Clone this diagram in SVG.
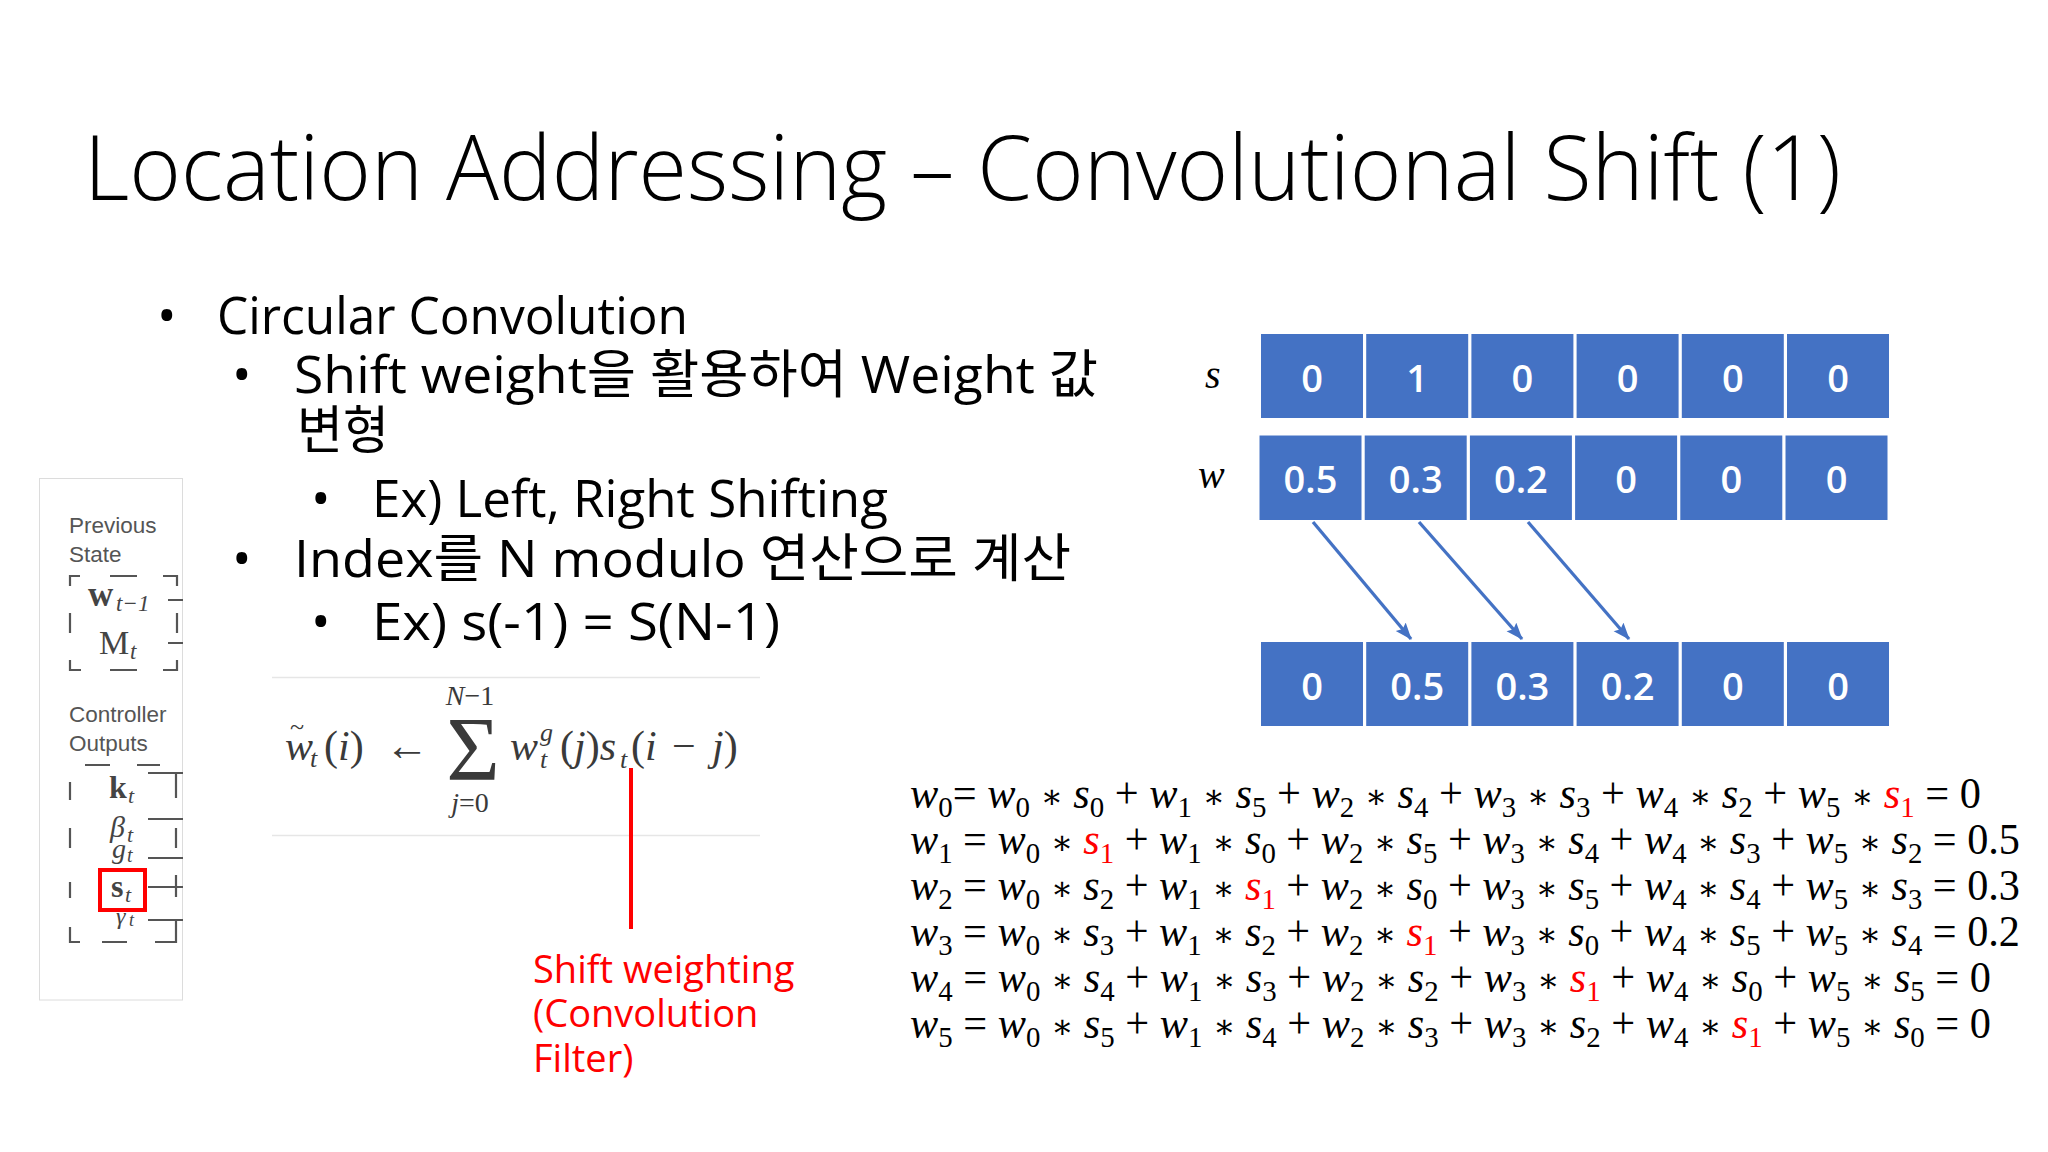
<svg xmlns="http://www.w3.org/2000/svg" width="2048" height="1152" viewBox="0 0 2048 1152">
<defs>
<style>
.ttl{font-family:"Open Sans","Noto Sans CJK KR",sans-serif;font-size:90px;font-weight:300;fill:#000}
.bl{font-family:"Open Sans","Noto Sans CJK KR",sans-serif;font-size:52px;font-weight:400;fill:#000}
.cell rect{fill:#4472c4;stroke:#fff;stroke-width:2}
.cell text{font-family:"Open Sans",sans-serif;font-size:38px;font-weight:600;fill:#fff;text-anchor:middle}
.lab{font-family:"Liberation Serif",serif;font-size:40px;font-style:italic;fill:#000}
.eq{font-family:"Liberation Serif","DejaVu Serif",serif;font-size:44px;fill:#000}
.v{font-style:italic}
.b{font-size:30px}
.o{font-size:34px}
.r{fill:#ff0000}
.fig{font-family:"Liberation Sans",sans-serif;font-size:22.5px;fill:#555}
.mth{font-family:"Liberation Serif",serif;fill:#444}
.dash{fill:none;stroke:#555;stroke-width:2.2}
.fm{font-family:"Liberation Serif",serif;fill:#3a3a3a}
.ann{font-family:"Open Sans",sans-serif;font-size:38px;fill:#ff0000}
.arr{stroke:#4472c4;stroke-width:3.3;fill:none;marker-end:url(#ah)}
</style>
<marker id="ah" markerUnits="userSpaceOnUse" markerWidth="18" markerHeight="14" refX="16" refY="6.5" orient="auto">
<path d="M0,0 L17,6.5 L0,13 L3,6.5 z" fill="#4472c4"/>
</marker>
</defs>
<rect width="2048" height="1152" fill="#fff"/>

<g id="title">
<text class="ttl" x="84" y="200" textLength="1757" lengthAdjust="spacingAndGlyphs">Location Addressing – Convolutional Shift (1)</text>
</g>

<g id="bullets">
<text class="bl" x="157" y="334">•</text>
<text class="bl" x="217" y="334" textLength="471" lengthAdjust="spacingAndGlyphs">Circular Convolution</text>
<text class="bl" x="232" y="393">•</text>
<text class="bl" x="294" y="393" textLength="804" lengthAdjust="spacingAndGlyphs">Shift weight을 활용하여 Weight 값</text>
<text class="bl" x="297" y="449" textLength="92" lengthAdjust="spacingAndGlyphs">변형</text>
<text class="bl" x="311" y="517">•</text>
<text class="bl" x="372" y="517" textLength="516" lengthAdjust="spacingAndGlyphs">Ex) Left, Right Shifting</text>
<text class="bl" x="232" y="577">•</text>
<text class="bl" x="294" y="577" textLength="777" lengthAdjust="spacingAndGlyphs">Index를 N modulo 연산으로 계산</text>
<text class="bl" x="311" y="640">•</text>
<text class="bl" x="372" y="640" textLength="408" lengthAdjust="spacingAndGlyphs">Ex) s(-1) = S(N-1)</text>
</g>

<g id="ntm-figure">
<rect x="39.5" y="478.5" width="143" height="521.5" fill="#fff" stroke="#dcdcdc" stroke-width="1"/>
<text class="fig" x="69" y="533">Previous</text>
<text class="fig" x="69" y="562">State</text>
<path class="dash" d="M70,586V576H80 M110,576H137 M163,576H177V586 M70,613V633 M177,613V633 M70,660V670H81 M110,670H137 M163,670H177V660 M168,600H183 M168,643H183"/>
<text class="mth" x="88" y="606" font-size="35" font-weight="bold">w</text>
<text class="mth" x="116" y="611" font-size="23" font-style="italic" fill="#777">t−1</text>
<text class="mth" x="99" y="654" font-size="34">M</text>
<text class="mth" x="130" y="659" font-size="23" font-style="italic">t</text>
<text class="fig" x="69" y="722">Controller</text>
<text class="fig" x="69" y="751">Outputs</text>
<path class="dash" d="M85,765H110 M137,765H160 M148,773H183 M176,773V798 M70,782V800 M70,828V848 M70,882V898 M148,819H183 M176,828V848 M148,858H183 M148,887H183 M176,875V897 M148,920H183 M176,920V942H155 M70,927V942H80 M102,942H127"/>
<text class="mth" x="109" y="798" font-size="32" font-weight="bold">k</text>
<text class="mth" x="128" y="803" font-size="22" font-style="italic">t</text>
<text class="mth" x="110" y="837" font-size="30" font-style="italic" fill="#aaa">β</text>
<text class="mth" x="127" y="842" font-size="22" font-style="italic" fill="#aaa">t</text>
<text class="mth" x="112" y="858" font-size="28" font-style="italic" fill="#8a9ab5">g</text>
<text class="mth" x="127" y="862" font-size="20" font-style="italic" fill="#8a9ab5">t</text>
<text class="mth" x="111" y="897" font-size="32" font-weight="bold">s</text>
<text class="mth" x="125" y="902" font-size="22" font-style="italic">t</text>
<text class="mth" x="116" y="924" font-size="24" font-style="italic" fill="#ccc">γ</text>
<text class="mth" x="129" y="926" font-size="18" font-style="italic" fill="#ccc">t</text>
<rect x="100" y="870" width="45" height="40" fill="none" stroke="#ff0000" stroke-width="4"/>
</g>

<g id="formula">
<line x1="272" y1="677.5" x2="760" y2="677.5" stroke="#e6e6e6" stroke-width="1.5"/>
<line x1="272" y1="835.5" x2="760" y2="835.5" stroke="#e6e6e6" stroke-width="1.5"/>
<text class="fm" x="285" y="760" font-size="42" font-style="italic">w</text>
<text class="fm" x="290" y="735" font-size="26">~</text>
<text class="fm" x="310" y="767" font-size="26" font-style="italic">t</text>
<text class="fm" x="324" y="760" font-size="42">(<tspan font-style="italic">i</tspan>)</text>
<text class="fm" x="385" y="760" font-size="44" font-family="DejaVu Serif">←</text>
<text class="fm" x="473" y="780" font-size="92" text-anchor="middle">Σ</text>
<text class="fm" x="470" y="705" font-size="28" text-anchor="middle"><tspan font-style="italic">N</tspan>−1</text>
<text class="fm" x="470" y="812" font-size="28" text-anchor="middle"><tspan font-style="italic">j</tspan>=0</text>
<text class="fm" x="510" y="760" font-size="42" font-style="italic">w</text>
<text class="fm" x="540" y="741" font-size="26" font-style="italic">g</text>
<text class="fm" x="540" y="768" font-size="26" font-style="italic">t</text>
<text class="fm" x="560" y="760" font-size="42">(<tspan font-style="italic">j</tspan>)<tspan font-style="italic">s</tspan></text>
<text class="fm" x="620" y="768" font-size="26" font-style="italic">t</text>
<text class="fm" x="631" y="760" font-size="42">(<tspan font-style="italic">i</tspan></text>
<text class="fm" x="672" y="760" font-size="42">−</text>
<text class="fm" x="712" y="760" font-size="42"><tspan font-style="italic">j</tspan>)</text>
</g>

<g id="annotation">
<text class="ann" x="533" y="983">Shift weighting</text>
<text class="ann" x="533" y="1027">(Convolution</text>
<text class="ann" x="533" y="1072">Filter)</text>
</g>

<g id="row-s">
<text class="lab" x="1205" y="388">s</text>
<g class="cell"><rect x="1260" y="333" width="104" height="86"/><text x="1312" y="392">0</text></g>
<g class="cell"><rect x="1365.2" y="333" width="104" height="86"/><text x="1417.2" y="392">1</text></g>
<g class="cell"><rect x="1470.4" y="333" width="104" height="86"/><text x="1522.4" y="392">0</text></g>
<g class="cell"><rect x="1575.6" y="333" width="104" height="86"/><text x="1627.6" y="392">0</text></g>
<g class="cell"><rect x="1680.8" y="333" width="104" height="86"/><text x="1732.8" y="392">0</text></g>
<g class="cell"><rect x="1786" y="333" width="104" height="86"/><text x="1838" y="392">0</text></g>
</g>

<g id="row-w">
<text class="lab" x="1198" y="488">w</text>
<g class="cell"><rect x="1258.5" y="434.5" width="104" height="86.5"/><text x="1310.5" y="493">0.5</text></g>
<g class="cell"><rect x="1363.7" y="434.5" width="104" height="86.5"/><text x="1415.7" y="493">0.3</text></g>
<g class="cell"><rect x="1468.9" y="434.5" width="104" height="86.5"/><text x="1520.9" y="493">0.2</text></g>
<g class="cell"><rect x="1574.1" y="434.5" width="104" height="86.5"/><text x="1626.1" y="493">0</text></g>
<g class="cell"><rect x="1679.3" y="434.5" width="104" height="86.5"/><text x="1731.3" y="493">0</text></g>
<g class="cell"><rect x="1784.5" y="434.5" width="104" height="86.5"/><text x="1836.5" y="493">0</text></g>
</g>

<g id="row-result">
<g class="cell"><rect x="1260" y="641" width="104" height="86"/><text x="1312" y="700">0</text></g>
<g class="cell"><rect x="1365.2" y="641" width="104" height="86"/><text x="1417.2" y="700">0.5</text></g>
<g class="cell"><rect x="1470.4" y="641" width="104" height="86"/><text x="1522.4" y="700">0.3</text></g>
<g class="cell"><rect x="1575.6" y="641" width="104" height="86"/><text x="1627.6" y="700">0.2</text></g>
<g class="cell"><rect x="1680.8" y="641" width="104" height="86"/><text x="1732.8" y="700">0</text></g>
<g class="cell"><rect x="1786" y="641" width="104" height="86"/><text x="1838" y="700">0</text></g>
</g>

<g id="connectors">
<line class="arr" x1="1313" y1="522" x2="1411" y2="639"/>
<line class="arr" x1="1419" y1="522" x2="1522" y2="639"/>
<line class="arr" x1="1528" y1="522" x2="1629" y2="639"/>
<line x1="631" y1="768" x2="631" y2="929" stroke="#ff0000" stroke-width="4"/>
</g>

<g id="equations" class="eq">
<text x="910" y="808" textLength="1071" lengthAdjust="spacingAndGlyphs"><tspan class="v">w</tspan><tspan class="b" dy="9">0</tspan><tspan dy="-9">= </tspan><tspan class="v">w</tspan><tspan class="b" dy="9">0</tspan><tspan dy="-9"> <tspan class="o">∗</tspan> </tspan><tspan class="v">s</tspan><tspan class="b" dy="9">0</tspan><tspan dy="-9"> + </tspan><tspan class="v">w</tspan><tspan class="b" dy="9">1</tspan><tspan dy="-9"> <tspan class="o">∗</tspan> </tspan><tspan class="v">s</tspan><tspan class="b" dy="9">5</tspan><tspan dy="-9"> + </tspan><tspan class="v">w</tspan><tspan class="b" dy="9">2</tspan><tspan dy="-9"> <tspan class="o">∗</tspan> </tspan><tspan class="v">s</tspan><tspan class="b" dy="9">4</tspan><tspan dy="-9"> + </tspan><tspan class="v">w</tspan><tspan class="b" dy="9">3</tspan><tspan dy="-9"> <tspan class="o">∗</tspan> </tspan><tspan class="v">s</tspan><tspan class="b" dy="9">3</tspan><tspan dy="-9"> + </tspan><tspan class="v">w</tspan><tspan class="b" dy="9">4</tspan><tspan dy="-9"> <tspan class="o">∗</tspan> </tspan><tspan class="v">s</tspan><tspan class="b" dy="9">2</tspan><tspan dy="-9"> + </tspan><tspan class="v">w</tspan><tspan class="b" dy="9">5</tspan><tspan dy="-9"> <tspan class="o">∗</tspan> </tspan><tspan class="v r">s</tspan><tspan class="b r" dy="9">1</tspan><tspan dy="-9"> = 0</tspan></text>
<text x="910" y="854" textLength="1110" lengthAdjust="spacingAndGlyphs"><tspan class="v">w</tspan><tspan class="b" dy="9">1</tspan><tspan dy="-9"> = </tspan><tspan class="v">w</tspan><tspan class="b" dy="9">0</tspan><tspan dy="-9"> <tspan class="o">∗</tspan> </tspan><tspan class="v r">s</tspan><tspan class="b r" dy="9">1</tspan><tspan dy="-9"> + </tspan><tspan class="v">w</tspan><tspan class="b" dy="9">1</tspan><tspan dy="-9"> <tspan class="o">∗</tspan> </tspan><tspan class="v">s</tspan><tspan class="b" dy="9">0</tspan><tspan dy="-9"> + </tspan><tspan class="v">w</tspan><tspan class="b" dy="9">2</tspan><tspan dy="-9"> <tspan class="o">∗</tspan> </tspan><tspan class="v">s</tspan><tspan class="b" dy="9">5</tspan><tspan dy="-9"> + </tspan><tspan class="v">w</tspan><tspan class="b" dy="9">3</tspan><tspan dy="-9"> <tspan class="o">∗</tspan> </tspan><tspan class="v">s</tspan><tspan class="b" dy="9">4</tspan><tspan dy="-9"> + </tspan><tspan class="v">w</tspan><tspan class="b" dy="9">4</tspan><tspan dy="-9"> <tspan class="o">∗</tspan> </tspan><tspan class="v">s</tspan><tspan class="b" dy="9">3</tspan><tspan dy="-9"> + </tspan><tspan class="v">w</tspan><tspan class="b" dy="9">5</tspan><tspan dy="-9"> <tspan class="o">∗</tspan> </tspan><tspan class="v">s</tspan><tspan class="b" dy="9">2</tspan><tspan dy="-9"> = 0.5</tspan></text>
<text x="910" y="900" textLength="1110" lengthAdjust="spacingAndGlyphs"><tspan class="v">w</tspan><tspan class="b" dy="9">2</tspan><tspan dy="-9"> = </tspan><tspan class="v">w</tspan><tspan class="b" dy="9">0</tspan><tspan dy="-9"> <tspan class="o">∗</tspan> </tspan><tspan class="v">s</tspan><tspan class="b" dy="9">2</tspan><tspan dy="-9"> + </tspan><tspan class="v">w</tspan><tspan class="b" dy="9">1</tspan><tspan dy="-9"> <tspan class="o">∗</tspan> </tspan><tspan class="v r">s</tspan><tspan class="b r" dy="9">1</tspan><tspan dy="-9"> + </tspan><tspan class="v">w</tspan><tspan class="b" dy="9">2</tspan><tspan dy="-9"> <tspan class="o">∗</tspan> </tspan><tspan class="v">s</tspan><tspan class="b" dy="9">0</tspan><tspan dy="-9"> + </tspan><tspan class="v">w</tspan><tspan class="b" dy="9">3</tspan><tspan dy="-9"> <tspan class="o">∗</tspan> </tspan><tspan class="v">s</tspan><tspan class="b" dy="9">5</tspan><tspan dy="-9"> + </tspan><tspan class="v">w</tspan><tspan class="b" dy="9">4</tspan><tspan dy="-9"> <tspan class="o">∗</tspan> </tspan><tspan class="v">s</tspan><tspan class="b" dy="9">4</tspan><tspan dy="-9"> + </tspan><tspan class="v">w</tspan><tspan class="b" dy="9">5</tspan><tspan dy="-9"> <tspan class="o">∗</tspan> </tspan><tspan class="v">s</tspan><tspan class="b" dy="9">3</tspan><tspan dy="-9"> = 0.3</tspan></text>
<text x="910" y="946" textLength="1110" lengthAdjust="spacingAndGlyphs"><tspan class="v">w</tspan><tspan class="b" dy="9">3</tspan><tspan dy="-9"> = </tspan><tspan class="v">w</tspan><tspan class="b" dy="9">0</tspan><tspan dy="-9"> <tspan class="o">∗</tspan> </tspan><tspan class="v">s</tspan><tspan class="b" dy="9">3</tspan><tspan dy="-9"> + </tspan><tspan class="v">w</tspan><tspan class="b" dy="9">1</tspan><tspan dy="-9"> <tspan class="o">∗</tspan> </tspan><tspan class="v">s</tspan><tspan class="b" dy="9">2</tspan><tspan dy="-9"> + </tspan><tspan class="v">w</tspan><tspan class="b" dy="9">2</tspan><tspan dy="-9"> <tspan class="o">∗</tspan> </tspan><tspan class="v r">s</tspan><tspan class="b r" dy="9">1</tspan><tspan dy="-9"> + </tspan><tspan class="v">w</tspan><tspan class="b" dy="9">3</tspan><tspan dy="-9"> <tspan class="o">∗</tspan> </tspan><tspan class="v">s</tspan><tspan class="b" dy="9">0</tspan><tspan dy="-9"> + </tspan><tspan class="v">w</tspan><tspan class="b" dy="9">4</tspan><tspan dy="-9"> <tspan class="o">∗</tspan> </tspan><tspan class="v">s</tspan><tspan class="b" dy="9">5</tspan><tspan dy="-9"> + </tspan><tspan class="v">w</tspan><tspan class="b" dy="9">5</tspan><tspan dy="-9"> <tspan class="o">∗</tspan> </tspan><tspan class="v">s</tspan><tspan class="b" dy="9">4</tspan><tspan dy="-9"> = 0.2</tspan></text>
<text x="910" y="992" textLength="1081" lengthAdjust="spacingAndGlyphs"><tspan class="v">w</tspan><tspan class="b" dy="9">4</tspan><tspan dy="-9"> = </tspan><tspan class="v">w</tspan><tspan class="b" dy="9">0</tspan><tspan dy="-9"> <tspan class="o">∗</tspan> </tspan><tspan class="v">s</tspan><tspan class="b" dy="9">4</tspan><tspan dy="-9"> + </tspan><tspan class="v">w</tspan><tspan class="b" dy="9">1</tspan><tspan dy="-9"> <tspan class="o">∗</tspan> </tspan><tspan class="v">s</tspan><tspan class="b" dy="9">3</tspan><tspan dy="-9"> + </tspan><tspan class="v">w</tspan><tspan class="b" dy="9">2</tspan><tspan dy="-9"> <tspan class="o">∗</tspan> </tspan><tspan class="v">s</tspan><tspan class="b" dy="9">2</tspan><tspan dy="-9"> + </tspan><tspan class="v">w</tspan><tspan class="b" dy="9">3</tspan><tspan dy="-9"> <tspan class="o">∗</tspan> </tspan><tspan class="v r">s</tspan><tspan class="b r" dy="9">1</tspan><tspan dy="-9"> + </tspan><tspan class="v">w</tspan><tspan class="b" dy="9">4</tspan><tspan dy="-9"> <tspan class="o">∗</tspan> </tspan><tspan class="v">s</tspan><tspan class="b" dy="9">0</tspan><tspan dy="-9"> + </tspan><tspan class="v">w</tspan><tspan class="b" dy="9">5</tspan><tspan dy="-9"> <tspan class="o">∗</tspan> </tspan><tspan class="v">s</tspan><tspan class="b" dy="9">5</tspan><tspan dy="-9"> = 0</tspan></text>
<text x="910" y="1038" textLength="1081" lengthAdjust="spacingAndGlyphs"><tspan class="v">w</tspan><tspan class="b" dy="9">5</tspan><tspan dy="-9"> = </tspan><tspan class="v">w</tspan><tspan class="b" dy="9">0</tspan><tspan dy="-9"> <tspan class="o">∗</tspan> </tspan><tspan class="v">s</tspan><tspan class="b" dy="9">5</tspan><tspan dy="-9"> + </tspan><tspan class="v">w</tspan><tspan class="b" dy="9">1</tspan><tspan dy="-9"> <tspan class="o">∗</tspan> </tspan><tspan class="v">s</tspan><tspan class="b" dy="9">4</tspan><tspan dy="-9"> + </tspan><tspan class="v">w</tspan><tspan class="b" dy="9">2</tspan><tspan dy="-9"> <tspan class="o">∗</tspan> </tspan><tspan class="v">s</tspan><tspan class="b" dy="9">3</tspan><tspan dy="-9"> + </tspan><tspan class="v">w</tspan><tspan class="b" dy="9">3</tspan><tspan dy="-9"> <tspan class="o">∗</tspan> </tspan><tspan class="v">s</tspan><tspan class="b" dy="9">2</tspan><tspan dy="-9"> + </tspan><tspan class="v">w</tspan><tspan class="b" dy="9">4</tspan><tspan dy="-9"> <tspan class="o">∗</tspan> </tspan><tspan class="v r">s</tspan><tspan class="b r" dy="9">1</tspan><tspan dy="-9"> + </tspan><tspan class="v">w</tspan><tspan class="b" dy="9">5</tspan><tspan dy="-9"> <tspan class="o">∗</tspan> </tspan><tspan class="v">s</tspan><tspan class="b" dy="9">0</tspan><tspan dy="-9"> = 0</tspan></text>
</g>
</svg>
